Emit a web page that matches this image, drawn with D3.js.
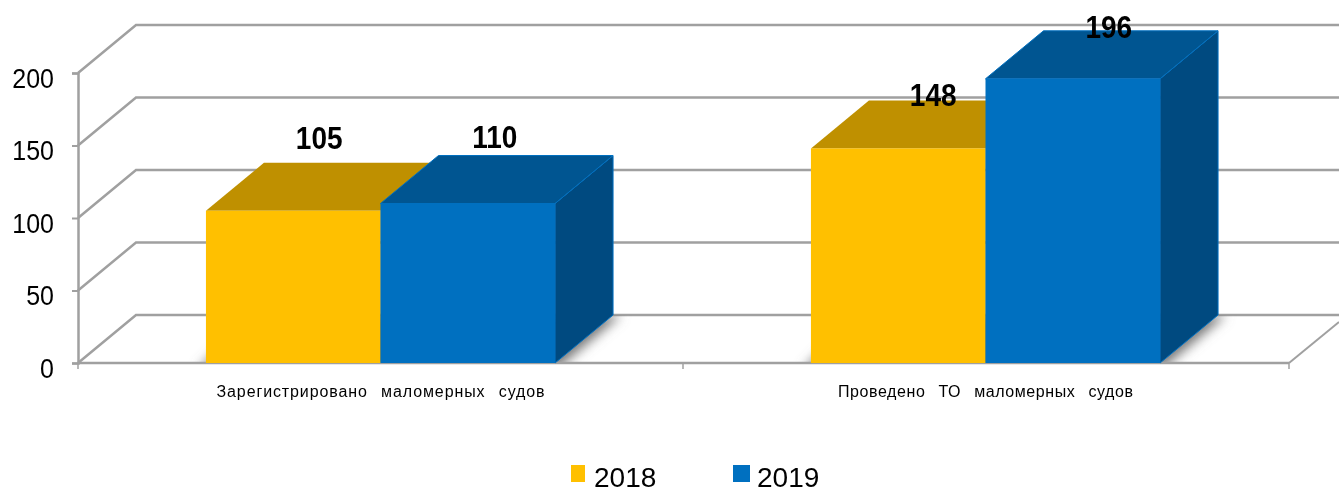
<!DOCTYPE html>
<html>
<head>
<meta charset="utf-8">
<script src="https://cdn.jsdelivr.net/npm/d3@7"></script>
<style>
  html, body { margin: 0; padding: 0; background: #fff; }
  svg { display: block; filter: blur(0.5px); }
  text { font-family: "Liberation Sans", Arial, sans-serif; fill: #000; }
  .cat text { font-size: 16px; word-spacing: 8px; }
</style>
</head>
<body>
<svg id="chart" width="1339" height="489"></svg>
<script>
// chart data
let categories = ["Зарегистрировано маломерных судов", "Проведено ТО маломерных судов"]
let seriesNames = ["2018", "2019"]
let values2018 = [105, 148]
let values2019 = [110, 196]
let yTicks = [0, 50, 100, 150, 200]

let allValues = [values2018, values2019]
let frontColors = ["#FFC000", "#0070C0"]
let topColors = ["#BF9000", "#005591"]
let sideColors = ["#9c7500", "#004A80"]
let edgeColors = ["none", "#0070C0"]

// depth of the fake 3d box
let depthX = 58, depthY = -48
let gridColor = "#a0a0a0"

let svg = d3.select("#chart")

let xScale = d3.scaleBand().domain(categories).range([78, 1288])
let xInner = d3.scaleBand().domain(seriesNames).range([0, xScale.bandwidth()]).paddingOuter(0.733)
let yScale = d3.scaleLinear().domain([0, 200]).range([363, 73])

// blur + clip for the floor shadow
let defs = svg.append("defs")
defs.append("filter").attr("id", "soft").attr("x", "-20%").attr("y", "-20%").attr("width", "140%").attr("height", "140%")
    .append("feGaussianBlur").attr("stdDeviation", 6)
defs.append("clipPath").attr("id", "floorClip").append("rect")
    .attr("x", 78).attr("y", yScale(0) + depthY).attr("width", 1261).attr("height", -depthY)

function pts(list) { return list.map(p => p.join(",")).join(" ") }

// back wall and side wall gridlines
let grid = svg.append("g").attr("class", "grid")
yTicks.forEach(t => {
    let y = yScale(t)
    grid.append("polyline")
        .attr("points", pts([[78, y], [78 + depthX, y + depthY], [1339, y + depthY]]))
        .attr("fill", "none").attr("stroke", gridColor).attr("stroke-width", 2.5)
})

// floor front edge, right edge
grid.append("line").attr("x1", 1289).attr("y1", yScale(0)).attr("x2", 1339).attr("y2", yScale(0) - 41)
    .attr("stroke", gridColor).attr("stroke-width", 2)

// shadows on the floor, behind the boxes
let shadows = svg.append("g").attr("clip-path", "url(#floorClip)")
categories.forEach(c => {
    let x0 = xScale(c) + xInner("2018")
    let x1 = xScale(c) + xInner("2019") + xInner.bandwidth()
    let y = yScale(0)
    shadows.append("polygon")
        .attr("points", pts([[x0 - 8, y + 6], [x0 + depthX - 8, y + depthY], [x1 + depthX + 8, y + depthY], [x1 + 2, y + 6]]))
        .attr("fill", "#777").attr("filter", "url(#soft)")
})

// y axis
let yAxis = d3.axisLeft(yScale).tickValues(yTicks).tickSize(6).tickPadding(18)
let yAxisGroup = svg.append("g").attr("transform", "translate(78,0)").call(yAxis)
yAxisGroup.select(".domain").attr("stroke", gridColor).attr("stroke-width", 2.5)
yAxisGroup.selectAll(".tick line").attr("stroke", gridColor).attr("stroke-width", 2)
yAxisGroup.selectAll(".tick text")
    .style("font-size", "25px")
    .attr("dy", "0.5em")
    .attr("transform", "scale(1,1.12)")
    .attr("y", function () { return 0 })

// x axis
let catLabelWidth = [328, 295]
let xAxis = d3.axisBottom(xScale).tickSize(0).tickPadding(23)
let xAxisGroup = svg.append("g").attr("class", "cat").attr("transform", `translate(0,${yScale(0)})`).call(xAxis)
xAxisGroup.select(".domain").remove()
xAxisGroup.selectAll(".tick text")
    .attr("textLength", (d, i) => catLabelWidth[i])
    .attr("lengthAdjust", "spacing")
xAxisGroup.append("line").attr("x1", 78).attr("x2", 1289).attr("stroke", gridColor).attr("stroke-width", 2.5)
let edges = [78, xScale(categories[1]), 1289]
xAxisGroup.selectAll(".edge").data(edges).join("line").attr("class", "edge")
    .attr("x1", d => d).attr("x2", d => d).attr("y1", 0).attr("y2", 6)
    .attr("stroke", gridColor).attr("stroke-width", 1.5)

// boxes, one group per series so 2019 sits on top of 2018
seriesNames.forEach((s, si) => {
    let g = svg.append("g").attr("class", "series-" + s)
    let rows = categories.map((c, i) => ({ c: c, v: allValues[si][i] }))

    g.selectAll(".side").data(rows).join("polygon").attr("class", "side")
        .attr("fill", sideColors[si])
        .attr("stroke", edgeColors[si])
        .attr("points", d => {
            let r = xScale(d.c) + xInner(s) + xInner.bandwidth(), t = yScale(d.v), b = yScale(0)
            return pts([[r, t], [r + depthX, t + depthY], [r + depthX, b + depthY], [r, b]])
        })
    g.selectAll(".top").data(rows).join("polygon").attr("class", "top")
        .attr("fill", topColors[si])
        .attr("stroke", edgeColors[si])
        .attr("points", d => {
            let l = xScale(d.c) + xInner(s), r = l + xInner.bandwidth(), t = yScale(d.v)
            return pts([[l, t], [l + depthX, t + depthY], [r + depthX, t + depthY], [r, t]])
        })
    g.selectAll(".front").data(rows).join("rect").attr("class", "front")
        .attr("fill", frontColors[si])
        .attr("x", d => xScale(d.c) + xInner(s))
        .attr("y", d => yScale(d.v))
        .attr("width", xInner.bandwidth())
        .attr("height", d => yScale(0) - yScale(d.v))
})

// value labels, placed by hand in the original so each gets its own nudge
let labelNudge = { "105": [26, -62], "110": [27, -56], "148": [35, -42], "196": [36, -41] }
seriesNames.forEach((s, si) => {
    categories.forEach((c, i) => {
        let v = allValues[si][i]
        let n = labelNudge[v]
        let cx = xScale(c) + xInner(s) + xInner.bandwidth() / 2 + n[0]
        let cy = yScale(v) + n[1]
        svg.append("text")
            .attr("transform", `translate(${cx},${cy}) scale(1,1.1)`)
            .attr("text-anchor", "middle")
            .style("font-size", "28px").style("font-weight", "bold")
            .text(v)
    })
})

// legend
let legendX = [571, 733]
let legendText = [594, 757]
seriesNames.forEach((s, i) => {
    svg.append("rect").attr("x", legendX[i]).attr("y", 465).attr("width", i == 0 ? 14 : 17).attr("height", 17).attr("fill", frontColors[i])
    svg.append("text").attr("x", legendText[i]).attr("y", 487).style("font-size", "28px").text(s)
})
</script>
</body>
</html>
